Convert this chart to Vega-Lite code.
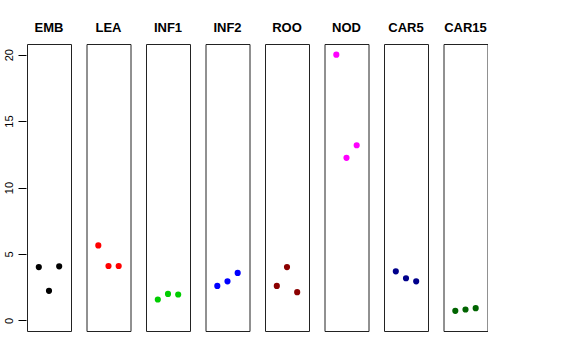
{
  "$schema": "https://vega.github.io/schema/vega-lite/v6.json",
  "autosize": {"type": "pad"},
  "padding": {"left": 3, "top": 22, "right": 0, "bottom": 0},
  "background": "white",
  "config": {
    "font": "Liberation Sans",
    "view": {"stroke": "#222", "strokeWidth": 1},
    "axis": {"labelFont": "Liberation Sans"}
  },
  "data": {
    "values": [
      {"panel": "EMB", "idx": 1, "value": 4.01},
      {"panel": "EMB", "idx": 2, "value": 2.22},
      {"panel": "EMB", "idx": 3, "value": 4.07},
      {"panel": "LEA", "idx": 1, "value": 5.64},
      {"panel": "LEA", "idx": 2, "value": 4.09},
      {"panel": "LEA", "idx": 3, "value": 4.09},
      {"panel": "INF1", "idx": 1, "value": 1.57},
      {"panel": "INF1", "idx": 2, "value": 1.99},
      {"panel": "INF1", "idx": 3, "value": 1.95},
      {"panel": "INF2", "idx": 1, "value": 2.59},
      {"panel": "INF2", "idx": 2, "value": 2.94},
      {"panel": "INF2", "idx": 3, "value": 3.57},
      {"panel": "ROO", "idx": 1, "value": 2.59},
      {"panel": "ROO", "idx": 2, "value": 4.01},
      {"panel": "ROO", "idx": 3, "value": 2.12},
      {"panel": "NOD", "idx": 1, "value": 20.0},
      {"panel": "NOD", "idx": 2, "value": 12.23},
      {"panel": "NOD", "idx": 3, "value": 13.18},
      {"panel": "CAR5", "idx": 1, "value": 3.69},
      {"panel": "CAR5", "idx": 2, "value": 3.17},
      {"panel": "CAR5", "idx": 3, "value": 2.94},
      {"panel": "CAR15", "idx": 1, "value": 0.72},
      {"panel": "CAR15", "idx": 2, "value": 0.82},
      {"panel": "CAR15", "idx": 3, "value": 0.92}
    ]
  },
  "facet": {
    "column": {
      "field": "panel",
      "type": "nominal",
      "sort": ["EMB", "LEA", "INF1", "INF2", "ROO", "NOD", "CAR5", "CAR15"],
      "header": {
        "title": null,
        "labelFontWeight": "bold",
        "labelFontSize": 13,
        "labelColor": "black",
        "labelFont": "Liberation Sans",
        "labelPadding": 8
      }
    }
  },
  "spacing": 13.5,
  "spec": {
    "width": 44,
    "height": 287,
    "mark": {"type": "circle", "size": 38, "opacity": 1},
    "encoding": {
      "x": {
        "field": "idx",
        "type": "quantitative",
        "scale": {"domain": [-0.16, 4.16], "nice": false, "zero": false},
        "axis": null
      },
      "y": {
        "field": "value",
        "type": "quantitative",
        "scale": {"domain": [-0.8, 20.8], "nice": false, "zero": false},
        "axis": {
          "title": null,
          "values": [0, 5, 10, 15, 20],
          "grid": false,
          "domain": false,
          "tickColor": "black",
          "tickSize": 8,
          "labelAngle": 270,
          "labelAlign": "center",
          "labelBaseline": "bottom",
          "labelPadding": 4,
          "labelFontSize": 11,
          "labelColor": "black"
        }
      },
      "color": {
        "field": "panel",
        "type": "nominal",
        "legend": null,
        "scale": {
          "domain": ["EMB", "LEA", "INF1", "INF2", "ROO", "NOD", "CAR5", "CAR15"],
          "range": ["#000000", "#FF0000", "#00CD00", "#0000FF", "#8B0000", "#FF00FF", "#00008B", "#006400"]
        }
      }
    }
  }
}
